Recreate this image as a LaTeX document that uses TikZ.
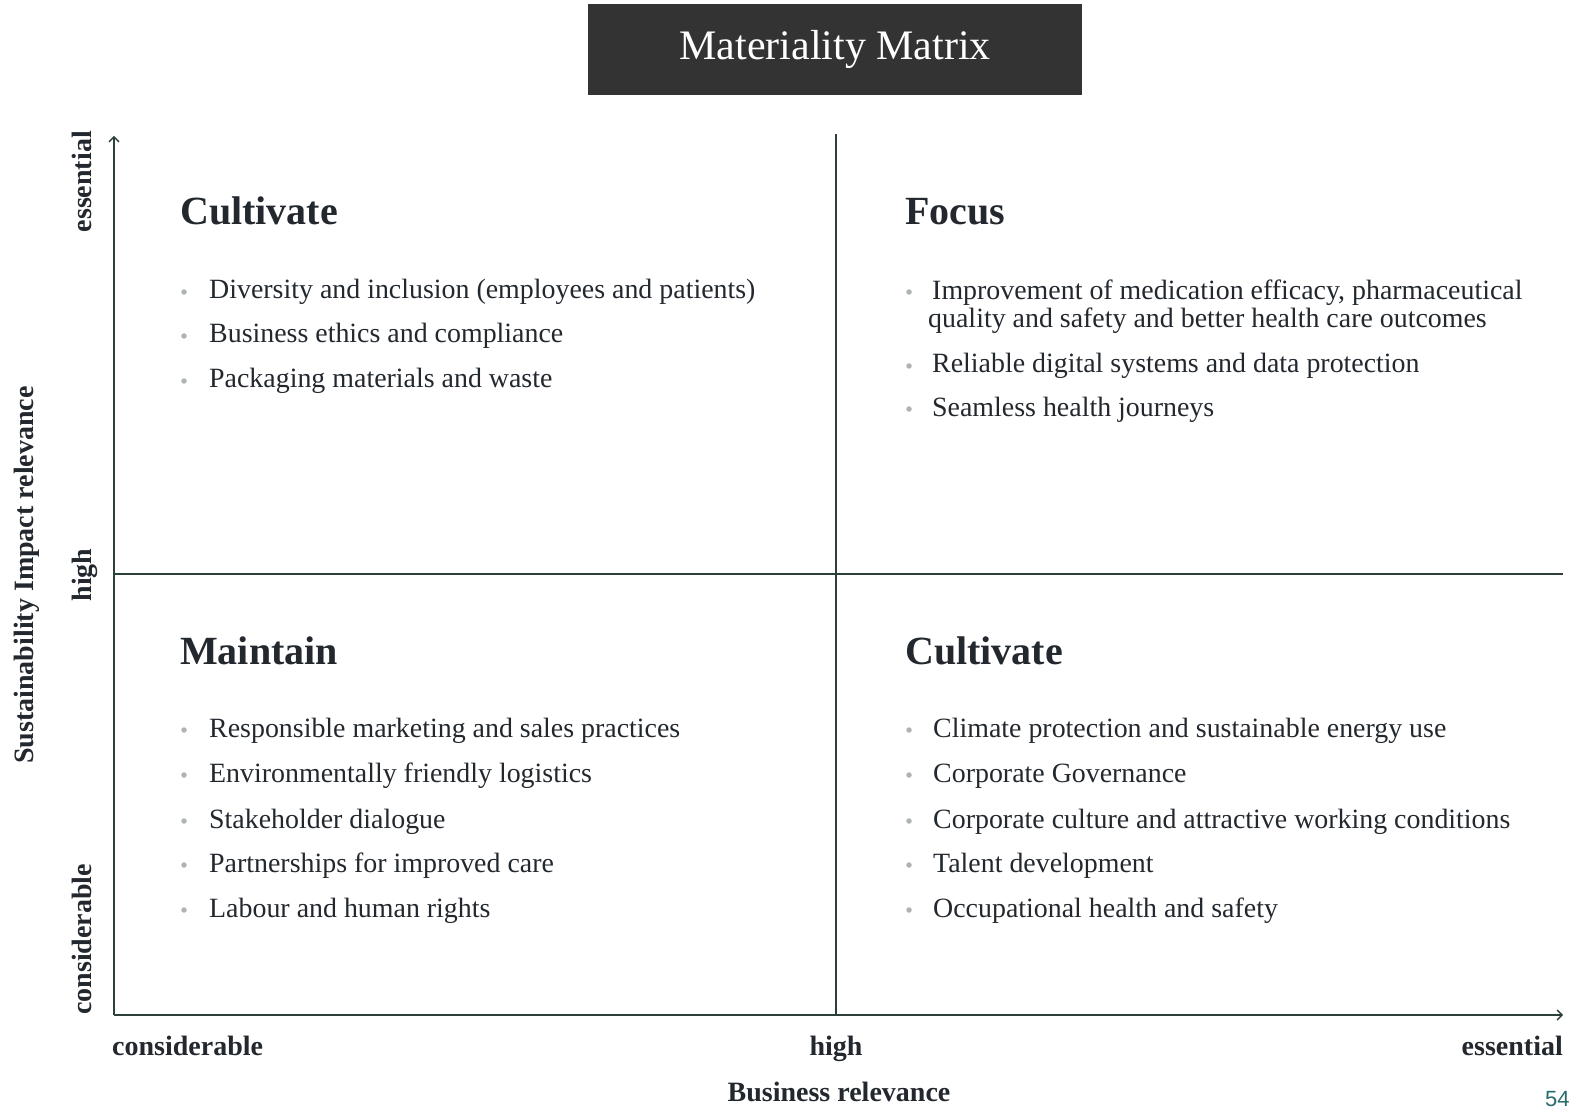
\documentclass[tikz,border=0pt]{standalone}
\usepackage{fontspec}
\setmainfont{Liberation Serif}
\newfontfamily\pagenumfont{Liberation Sans}
\usetikzlibrary{arrows.meta}
\definecolor{titlebg}{HTML}{333333}
\definecolor{axiscol}{HTML}{2C3F3B}
\definecolor{txtcol}{HTML}{22282E}
\definecolor{bulletcol}{HTML}{AEB3B3}
\definecolor{pagecol}{HTML}{2A6B6B}
\tikzset{
  axisline/.style={draw=axiscol, line width=1.6pt},
  header/.style={anchor=base west, inner sep=0pt, text=txtcol, font=\fontsize{40}{42}\selectfont\bfseries},
  item/.style={anchor=base west, inner sep=0pt, text=txtcol, font=\fontsize{27.9}{28.5}\selectfont, align=left},
  axislabel/.style={inner sep=0pt, text=txtcol, font=\fontsize{28}{30}\selectfont\bfseries},
  dot/.style={circle, fill=bulletcol, inner sep=0pt, minimum size=5.5pt},
}
\begin{document}
\begin{tikzpicture}[x=1pt,y=-1pt]
\useasboundingbox (0,0) rectangle (1583,1107);
% title
\node[fill=titlebg, minimum width=494pt, minimum height=91pt, inner sep=0pt, anchor=north west] (titlebox) at (588,4) {};
\node[text=white, font=\fontsize{42}{44}\selectfont] (title) at (titlebox.center) {Materiality Matrix};
% axes
\coordinate (origin) at (114,1015);
\coordinate (ytop) at (114,136);
\coordinate (xend) at (1563,1015);
\coordinate (vtop) at (836,134);
\coordinate (vbot) at (836,1015);
\coordinate (hleft) at (114,574);
\coordinate (hright) at (1563,574);
\draw[axisline, -{Straight Barb[length=5pt,width=10pt,line width=1.4pt]}] (origin) -- (ytop);
\draw[axisline, -{Straight Barb[length=5pt,width=10pt,line width=1.4pt]}] (origin) -- (xend);
\draw[axisline] (vtop) -- (vbot);
\draw[axisline] (hleft) -- (hright);
% x labels
\node[axislabel, anchor=base west] (xcons) at (112,1055) {considerable};
\node[axislabel, anchor=base] (xhigh) at (836,1055) {high};
\node[axislabel, anchor=base east] (xess) at (1563,1055) {essential};
\node[axislabel, anchor=base] (xtitle) at (839,1101) {Business relevance};
% y labels
\node[axislabel, rotate=90, anchor=base east] (yess) at (91,131) {essential};
\node[axislabel, rotate=90, anchor=base] (yhigh) at (91,575) {high};
\node[axislabel, rotate=90, anchor=base west] (ycons) at (91,1015) {considerable};
\node[axislabel, rotate=90, anchor=base] (ytitle) at (33,575) {Sustainability Impact relevance};
% Top-left quadrant
\node[header] (hcult1) at (180,225) {Cultivate};
\node[dot] (b11) at (184,292) {};
\node[item] (t11) at (209,299) {Diversity and inclusion (employees and patients)};
\node[dot] (b12) at (184,336) {};
\node[item] (t12) at (209,343) {Business ethics and compliance};
\node[dot] (b13) at (184,381) {};
\node[item] (t13) at (209,388) {Packaging materials and waste};
% Top-right quadrant
\node[header] (hfocus) at (905,225) {Focus};
\node[dot] (b21) at (909,292) {};
\node[item] (t21) at (932,327.5) {Improvement of medication efficacy, pharmaceutical\\[-0.5pt]\hspace*{-4pt}quality and safety and better health care outcomes};
\node[dot] (b22) at (909,366) {};
\node[item] (t22) at (932,373) {Reliable digital systems and data protection};
\node[dot] (b23) at (909,409) {};
\node[item] (t23) at (932,416) {Seamless health journeys};
% Bottom-left quadrant
\node[header] (hmaint) at (180,664) {Maintain};
\node[dot] (b31) at (184,730) {};
\node[item] (t31) at (209,737) {Responsible marketing and sales practices};
\node[dot] (b32) at (184,775) {};
\node[item] (t32) at (209,782) {Environmentally friendly logistics};
\node[dot] (b33) at (184,821) {};
\node[item] (t33) at (209,828) {Stakeholder dialogue};
\node[dot] (b34) at (184,865) {};
\node[item] (t34) at (209,872) {Partnerships for improved care};
\node[dot] (b35) at (184,910) {};
\node[item] (t35) at (209,917) {Labour and human rights};
% Bottom-right quadrant
\node[header] (hcult2) at (905,664) {Cultivate};
\node[dot] (b41) at (909,730) {};
\node[item] (t41) at (933,737) {Climate protection and sustainable energy use};
\node[dot] (b42) at (909,775) {};
\node[item] (t42) at (933,782) {Corporate Governance};
\node[dot] (b43) at (909,821) {};
\node[item] (t43) at (933,828) {Corporate culture and attractive working conditions};
\node[dot] (b44) at (909,865) {};
\node[item] (t44) at (933,872) {Talent development};
\node[dot] (b45) at (909,910) {};
\node[item] (t45) at (933,917) {Occupational health and safety};
% page number
\node[anchor=north west, inner sep=0pt, text=pagecol, font=\pagenumfont\fontsize{22}{24}\selectfont] (pnum) at (1545,1091) {54};
\end{tikzpicture}
\end{document}
